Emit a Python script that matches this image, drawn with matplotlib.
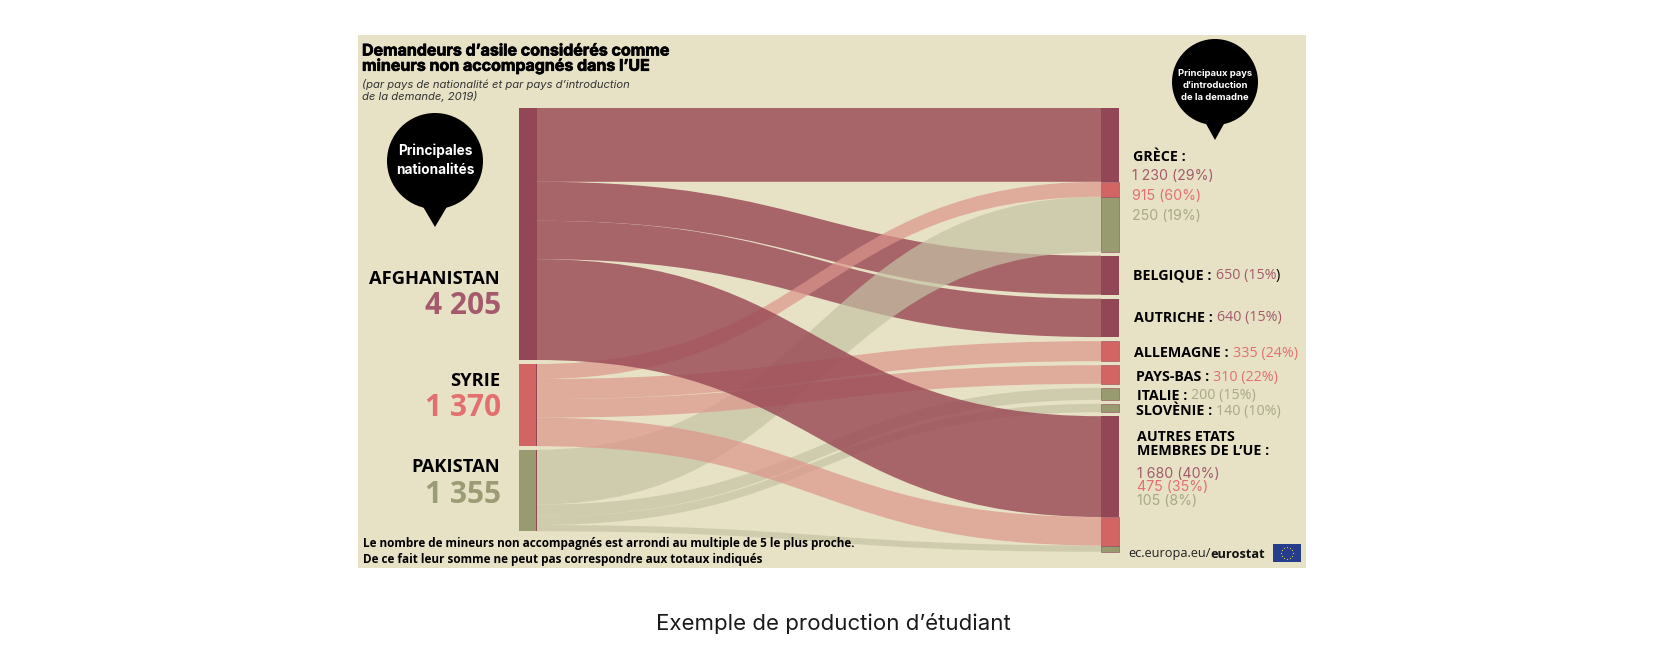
"""Unaccompanied minors sankey (Eurostat 2019, student version)."""
import numpy as np
import matplotlib
matplotlib.use("Agg")
import matplotlib.pyplot as plt
import matplotlib.patheffects as pe
from matplotlib.patches import Circle, PathPatch, Polygon, Rectangle
from matplotlib.path import Path

origins = ["AFGHANISTAN", "SYRIE", "PAKISTAN"]
origin_totals = ["4 205", "1 370", "1 355"]
destinations = ["GRÈCE", "BELGIQUE", "AUTRICHE", "ALLEMAGNE", "PAYS-BAS", "ITALIE", "SLOVÈNIE", "AUTRES"]

# flows per destination, same order as destinations
afghanistan = [1230, 650, 640, 0, 0, 0, 0, 1680]
syrie = [250, 0, 0, 335, 310, 0, 0, 475]
pakistan = [915, 0, 0, 0, 0, 200, 140, 105]

BG = "#e7e2c6"
MAROON = (147 / 255, 70 / 255, 86 / 255)
RED = (210 / 255, 100 / 255, 100 / 255)
GREEN = (152 / 255, 154 / 255, 112 / 255)
MAROON_FLOW = (152 / 255, 70 / 255, 83 / 255)
RED_FLOW = (221 / 255, 149 / 255, 139 / 255)
GREEN_FLOW = (198 / 255, 195 / 255, 165 / 255)
MAROON_TXT = "#a45a6c"
RED_TXT = "#e27070"
GREEN_TXT = "#a8a886"

SCALE = 0.06  # px per minor
TOP = 108
LEFT_X = (519, 537)
RIGHT_X = (1101, 1119)
LEFT_GAP = [0, 4, 3.5]
RIGHT_GAP = 4

plt.rcParams["font.family"] = ["Open Sans", "DejaVu Sans"]

fig = plt.figure(figsize=(16.67, 6.67), dpi=100, facecolor="white")
ax = fig.add_axes([0, 0, 1, 1])
ax.set_xlim(0, 1667)
ax.set_ylim(667, 0)
ax.axis("off")

ax.add_patch(Rectangle((358, 35), 948, 533, facecolor=BG, edgecolor="none", zorder=0))

flows = np.array([afghanistan, syrie, pakistan], dtype=float)
node_colors = [MAROON, RED, GREEN]

# left stack positions
left_y = []
y = TOP
for i, row in enumerate(flows):
    y += LEFT_GAP[i]
    left_y.append(y)
    y += row.sum() * SCALE

# right stack positions
right_y = []
y = TOP
for j in range(flows.shape[1]):
    right_y.append(y)
    y += flows[:, j].sum() * SCALE + RIGHT_GAP


def flow_patch(x0, x1, y0, y1, h, color, alpha, zorder):
    xm = (x0 + x1) / 2
    verts = [(x0, y0), (xm, y0), (xm, y1), (x1, y1),
             (x1, y1 + h), (xm, y1 + h), (xm, y0 + h), (x0, y0 + h), (x0, y0)]
    codes = [Path.MOVETO, Path.CURVE4, Path.CURVE4, Path.CURVE4,
             Path.LINETO, Path.CURVE4, Path.CURVE4, Path.CURVE4, Path.CLOSEPOLY]
    ax.add_patch(PathPatch(Path(verts, codes), facecolor=color, edgecolor="none",
                           alpha=alpha, zorder=zorder))


# offsets of every flow inside its two nodes
left_pos = {}
right_pos = {}
for i in range(3):
    cum = left_y[i]
    for j in range(flows.shape[1]):
        left_pos[i, j] = cum
        cum += flows[i, j] * SCALE
for j in range(flows.shape[1]):
    cum = right_y[j]
    for i in range(3):
        right_pos[i, j] = cum
        cum += flows[i, j] * SCALE

# pale flows go above the first maroon ones, the big maroon flow goes on top
flow_styles = {0: (MAROON_FLOW, 0.8), 1: (RED_FLOW, 0.7), 2: (GREEN_FLOW, 0.7)}
layer = {0: 1, 2: 2, 1: 3}
for i in range(3):
    color, alpha = flow_styles[i]
    for j in range(flows.shape[1]):
        if flows[i, j] == 0:
            continue
        z = 4 if (i == 0 and j == len(destinations) - 1) else layer[i]
        flow_patch(LEFT_X[1], RIGHT_X[0], left_pos[i, j], right_pos[i, j],
                   flows[i, j] * SCALE, color, alpha, z)

# nodes
for i in range(3):
    h = flows[i].sum() * SCALE
    ax.add_patch(Rectangle((LEFT_X[0], left_y[i]), LEFT_X[1] - LEFT_X[0], h,
                           facecolor=node_colors[i], edgecolor="none", zorder=5))
    if i > 0:
        ax.add_patch(Rectangle((LEFT_X[1] - 1.5, left_y[i]), 1.5, h,
                               facecolor=MAROON, edgecolor="none", zorder=6))
for j in range(flows.shape[1]):
    for i in range(3):
        if flows[i, j] == 0:
            continue
        edge = MAROON if i > 0 else "none"
        ax.add_patch(Rectangle((RIGHT_X[0], right_pos[i, j]), RIGHT_X[1] - RIGHT_X[0],
                               flows[i, j] * SCALE, facecolor=node_colors[i],
                               edgecolor=edge, linewidth=0.4, zorder=5))


def bubble(cx, cy, r, tip_y, half_base, base_y):
    ax.add_patch(Circle((cx, cy), r, facecolor="black", edgecolor="none", zorder=7))
    ax.add_patch(Polygon([(cx - half_base, base_y), (cx + half_base, base_y), (cx, tip_y)],
                         facecolor="black", edgecolor="none", zorder=7))


bubble(435, 161, 48, 227, 13, 205)
bubble(1215, 82, 43, 140, 10, 122)

T = dict(zorder=8, va="center")
heavy = [pe.withStroke(linewidth=0.5, foreground="black")]
ax.text(362, 51, "Demandeurs d’asile considérés comme", family="Inter", weight="bold", fontsize=11.5, path_effects=heavy, **T)
ax.text(362, 66, "mineurs non accompagnés dans l’UE", family="Inter", weight="bold", fontsize=11.5, path_effects=heavy, **T)
ax.text(362, 84, "(par pays de nationalité et par pays d’introduction", family="Inter", style="italic", fontsize=8.1, color="#333333", **T)
ax.text(362, 96, "de la demande, 2019)", family="Inter", style="italic", fontsize=8.1, color="#333333", **T)

ax.text(435, 151, "Principales", family="Inter", weight="bold", fontsize=9.8, color="white", ha="center", **T)
ax.text(435, 170, "nationalités", family="Inter", weight="bold", fontsize=9.8, color="white", ha="center", **T)
ax.text(1215, 73, "Principaux pays", family="Inter", weight="bold", fontsize=6.8, color="white", ha="center", **T)
ax.text(1215, 86, "d’introduction", family="Inter", weight="bold", fontsize=6.8, color="white", ha="center", **T)
ax.text(1215, 98, "de la demadne", family="Inter", weight="bold", fontsize=6.8, color="white", ha="center", **T)

label_y = [279, 381, 467]
total_y = [306, 408, 495]
total_colors = [MAROON_TXT, RED_TXT, "#9b9c76"]
for name, total, ly, ty, c in zip(origins, origin_totals, label_y, total_y, total_colors):
    ax.text(500, ly, name, weight="bold", fontsize=13.2, color="black", ha="right", **T)
    ax.text(501, ty, total, weight="bold", fontsize=21.5, color=c, ha="right", **T)

ax.text(1133, 157, "GRÈCE :", weight="bold", fontsize=10.3, **T)
VAL = dict(family="Inter", fontsize=10.2)
ax.text(1132, 176, "1 230 (29%)", color=MAROON_TXT, **VAL, **T)
ax.text(1132, 196, "915 (60%)", color=RED_TXT, **VAL, **T)
ax.text(1132, 216, "250 (19%)", color=GREEN_TXT, **VAL, **T)

fig.canvas.draw()
renderer = fig.canvas.get_renderer()


def inline_label(x, y, name, value, color):
    t = ax.text(x, y, name, weight="bold", fontsize=10.3, **T)
    x_end = t.get_window_extent(renderer).x1
    return ax.text(x_end + 4, y, value, color=color, fontsize=10.3, family="Open Sans", **T)


belgique = inline_label(1133, 275, "BELGIQUE :", "650 (15%", MAROON_TXT)
ax.text(belgique.get_window_extent(renderer).x1, 275, ")", fontsize=10.3, **T)
inline_label(1134, 318, "AUTRICHE :", "640 (15%)", MAROON_TXT)
inline_label(1134, 353, "ALLEMAGNE :", "335 (24%)", RED_TXT)
inline_label(1136, 377, "PAYS-BAS :", "310 (22%)", RED_TXT)
inline_label(1137, 396, "ITALIE :", "200 (15%)", GREEN_TXT)
inline_label(1136, 411, "SLOVÈNIE :", "140 (10%)", GREEN_TXT)

ax.text(1137, 437, "AUTRES ETATS", weight="bold", fontsize=10.3, **T)
ax.text(1137, 451, "MEMBRES DE L’UE :", weight="bold", fontsize=10.3, **T)
ax.text(1137, 474, "1 680 (40%)", color=MAROON_TXT, **VAL, **T)
ax.text(1137, 487, "475 (35%)", color=RED_TXT, **VAL, **T)
ax.text(1137, 501, "105 (8%)", color=GREEN_TXT, **VAL, **T)

ax.text(363, 543, "Le nombre de mineurs non accompagnés est arrondi au multiple de 5 le plus proche.",
        weight="bold", fontsize=8.43, **T)
ax.text(363, 559, "De ce fait leur somme ne peut pas correspondre aux totaux indiqués",
        weight="bold", fontsize=8.43, **T)

src = ax.text(1128, 554, "ec.europa.eu/", fontsize=9.2, color="#222222", **T)
ax.text(src.get_window_extent(renderer).x1, 554, "eurostat", fontsize=9.2, weight="bold", color="#111111", **T)

# EU flag
ax.add_patch(Rectangle((1273, 544), 28, 18, facecolor="#263c8c", edgecolor="none", zorder=8))
angles = np.arange(12) * np.pi / 6
ax.scatter(1287 + 6 * np.cos(angles), 553 + 6 * np.sin(angles), s=0.8, color="#d8c83c", zorder=9, linewidths=0)

ax.text(833, 624, "Exemple de production d’étudiant", family="Inter", fontsize=16,
        color="#1a1a1a", ha="center", zorder=8, va="center")

fig.savefig("out.png", dpi=100)
